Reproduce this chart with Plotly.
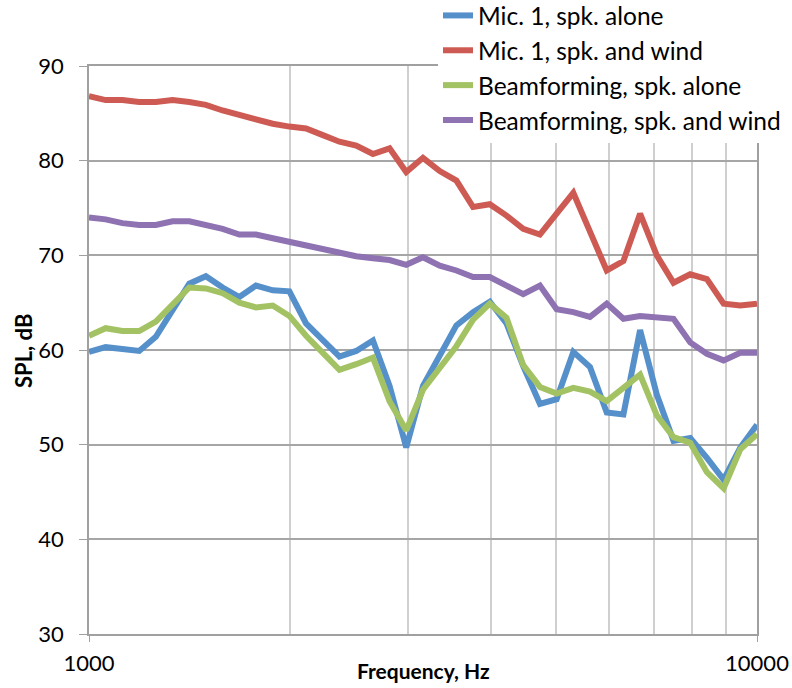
import plotly.graph_objects as go

# 1/12-octave analysis frequencies (Hz)
freq_hz = [1000, 1059, 1122, 1189, 1259, 1334, 1413, 1496, 1585, 1679,
           1778, 1884, 1995, 2113, 2239, 2371, 2512, 2661, 2818, 2985,
           3162, 3350, 3548, 3758, 3981, 4217, 4467, 4732, 5012, 5309,
           5623, 5957, 6310, 6683, 7079, 7499, 7943, 8414, 8913, 9441,
           10000]

# SPL levels (dB)
mic1_alone = [59.8, 60.3, 60.1, 59.9, 61.4, 64.2, 67.0, 67.8, 66.6, 65.6,
              66.8, 66.3, 66.2, 62.8, 61.1, 59.3, 59.9, 61.0, 56.2, 49.7,
              56.2, 59.4, 62.6, 64.0, 65.1, 62.8, 58.3, 54.3, 54.8, 59.8,
              58.2, 53.4, 53.2, 62.1, 55.3, 50.4, 50.7, 48.6, 46.3, 49.7,
              52.1]
mic1_wind = [86.8, 86.4, 86.4, 86.2, 86.2, 86.4, 86.2, 85.9, 85.3, 84.8,
             84.4, 83.9, 83.6, 83.4, 82.7, 82.0, 81.6, 80.7, 81.3, 78.8,
             80.3, 78.9, 77.9, 75.1, 75.4, 74.2, 72.8, 72.2, 74.4, 76.6,
             72.5, 68.4, 69.4, 74.4, 70.0, 67.1, 68.0, 67.5, 64.9, 64.7,
             64.9]
beam_alone = [61.5, 62.3, 62.0, 62.0, 63.0, 64.9, 66.6, 66.5, 66.0, 65.0,
              64.5, 64.7, 63.6, 61.5, 59.7, 57.9, 58.5, 59.2, 54.6, 51.5,
              55.8, 58.0, 60.4, 63.2, 64.9, 63.4, 58.4, 56.1, 55.4, 56.0,
              55.6, 54.6, 56.1, 57.4, 53.1, 50.8, 50.2, 47.1, 45.4, 49.5,
              51.1]
beam_wind = [74.0, 73.8, 73.4, 73.2, 73.2, 73.6, 73.6, 73.2, 72.8, 72.2,
             72.2, 71.8, 71.4, 71.0, 70.6, 70.2, 69.9, 69.7, 69.5, 69.0,
             69.8, 68.9, 68.4, 67.7, 67.7, 66.8, 65.9, 66.8, 64.3, 64.0,
             63.5, 64.9, 63.3, 63.6, 63.5, 63.3, 60.8, 59.6, 58.9, 59.7,
             59.7]

series_names = ["Mic. 1, spk. alone", "Mic. 1, spk. and wind",
                "Beamforming, spk. alone", "Beamforming, spk. and wind"]
series_values = [mic1_alone, mic1_wind, beam_alone, beam_wind]
series_colors = ["#5690CB", "#CD5B54", "#A3C263", "#8E72B1"]

x_major_ticks = [1000, 10000]
x_minor_grid = [2000, 3000, 4000, 5000, 6000, 7000, 8000, 9000]
y_ticks = [30, 40, 50, 60, 70, 80, 90]

FONT = "Lato"
W, H = 792, 688
L, R, T, B = 89, 35, 66, 54
PW, PH = W - L - R, H - T - B

fig = go.Figure()
for name, vals, col in zip(series_names, series_values, series_colors):
    fig.add_trace(go.Scatter(
        x=freq_hz, y=vals, name=name, mode="lines",
        line=dict(color=col, width=6),
    ))

fig.update_layout(
    width=W, height=H, autosize=False,
    margin=dict(l=L, r=R, t=T, b=B, pad=0, autoexpand=False),
    plot_bgcolor="white", paper_bgcolor="white",
    font=dict(family=FONT, color="black"),
    showlegend=True,
    legend=dict(
        x=(438 - L) / PW, xanchor="left",
        y=(PH + T + 7) / PH, yanchor="top",
        bgcolor="white", borderwidth=0,
        font=dict(family=FONT, size=24.5, color="black"),
        itemclick=False, itemdoubleclick=False,
    ),
    annotations=[
        dict(text="Frequency, Hz", xref="paper", yref="paper",
             x=(423 - L) / PW, y=-(670 - (T + PH)) / PH,
             xanchor="center", yanchor="middle",
             showarrow=False, font=dict(family=FONT, size=21, weight="bold")),
        dict(text="SPL, dB", xref="paper", yref="paper", textangle=-90,
             x=-(L - 23) / PW, y=(T + PH - 351) / PH,
             xanchor="center", yanchor="middle",
             showarrow=False, font=dict(family=FONT, size=22, weight="bold")),
    ],
)

fig.update_xaxes(
    type="log", range=[3, 4], automargin=False,
    tickvals=x_major_ticks, ticktext=[str(v) for v in x_major_ticks],
    ticks="outside", ticklen=6, tickcolor="#A0A0A0", tickwidth=1,
    ticklabelstandoff=3,
    tickfont=dict(family=FONT, size=22),
    showgrid=True, gridcolor="#A6A6A6", gridwidth=1,
    showline=True, linecolor="#A0A0A0", linewidth=1.5, mirror=True,
    minor=dict(tickvals=x_minor_grid, showgrid=True, gridcolor="#CFCFCF",
               gridwidth=1.5, ticks=""),
    zeroline=False,
)
fig.update_yaxes(
    range=[30, 90], tickvals=y_ticks, automargin=False,
    ticks="outside", ticklen=8, tickcolor="#A0A0A0", tickwidth=1,
    ticklabelstandoff=11,
    tickfont=dict(family=FONT, size=22),
    showgrid=True, gridcolor="#A6A6A6", gridwidth=1.5,
    showline=True, linecolor="#A0A0A0", linewidth=1.5, mirror=True,
    zeroline=False,
)

fig.write_html("out.html")
